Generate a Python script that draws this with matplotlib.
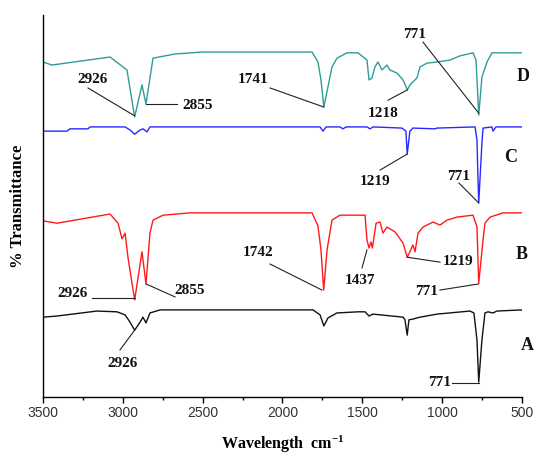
import matplotlib
matplotlib.use("Agg")
import matplotlib.pyplot as plt

plt.rcParams["mathtext.fontset"] = "custom"
plt.rcParams["mathtext.rm"] = "Liberation Serif:bold"
plt.rcParams["mathtext.bf"] = "Liberation Serif:bold"
plt.rcParams["mathtext.it"] = "Liberation Serif:bold"

# ---- data (wavenumber cm-1, stacked % transmittance) ----
wn_D = [3500, 3444, 3080, 2974, 2926, 2880, 2855, 2811, 2673, 2504, 1815, 1778, 1759, 1741, 1690, 1659,
        1596, 1527, 1471, 1458, 1440, 1421, 1402, 1377, 1346, 1327, 1283, 1245, 1218, 1202, 1183,
        1158, 1139, 1095, 1032, 951, 889, 807, 788, 771, 751, 719, 688, 650, 500]
T_D = [87.7, 86.9, 89.0, 85.6, 73.3, 81.7, 76.7, 88.7, 89.8, 90.3, 90.3, 87.7, 83.0, 75.9, 86.4, 88.7,
       90.1, 90.1, 88.2, 83.0, 83.5, 86.4, 87.7, 85.6, 86.9, 85.6, 84.8, 83.0, 80.4, 81.7, 82.5,
       83.5, 86.4, 87.4, 87.7, 88.2, 89.3, 90.1, 88.2, 73.8, 83.8, 87.7, 90.1, 90.1, 90.1]

wn_C = [3500, 3350, 3331, 3218, 3206, 2986, 2955, 2926, 2892, 2874, 2849, 2830, 1765, 1746, 1727,
        1640, 1621, 1602, 1471, 1452, 1433, 1252, 1227, 1219, 1202, 1183, 1045, 1032, 794, 782,
        776, 771, 751, 744, 688, 682, 663, 500]
T_C = [69.6, 69.6, 70.2, 70.2, 70.7, 70.7, 69.9, 68.8, 69.9, 70.2, 69.4, 70.7, 70.7, 69.6, 70.7,
       70.7, 70.2, 70.7, 70.7, 70.2, 70.7, 70.4, 69.6, 63.6, 69.6, 70.4, 70.2, 70.4, 70.7, 67.3,
       57.6, 50.8, 66.5, 70.4, 70.7, 69.6, 70.7, 70.7]

wn_B = [3500, 3412, 3080, 3030, 3005, 2986, 2968, 2926, 2880, 2855, 2830, 2811, 2748, 2579, 1815,
        1778, 1759, 1742, 1721, 1690, 1640, 1483, 1471, 1458, 1446, 1437, 1414, 1389, 1371, 1346,
        1295, 1245, 1219, 1202, 1183, 1170, 1151, 1120, 1057, 1014, 970, 907, 807, 782, 771, 744,
        732, 700, 619, 500]
T_B = [46.1, 45.5, 47.9, 45.5, 41.4, 42.9, 36.6, 25.4, 38.0, 29.6, 42.9, 46.3, 47.6, 48.2, 48.2,
       44.8, 38.5, 28.0, 38.5, 46.3, 47.6, 47.6, 41.1, 39.0, 40.6, 39.0, 45.5, 45.8, 42.9, 44.5,
       43.2, 40.3, 36.6, 38.0, 39.8, 38.0, 42.9, 44.5, 45.8, 45.0, 46.3, 47.1, 47.6, 44.5, 29.8, 41.1,
       45.5, 47.1, 48.2, 48.2]

wn_A = [3500, 3412, 3162, 3037, 2986, 2955, 2926, 2892, 2874, 2855, 2830, 2767, 1809, 1765, 1741,
        1715, 1659, 1527, 1483, 1458, 1433, 1245, 1233, 1219, 1208, 1183, 1139, 1032, 826, 801,
        782, 771, 751, 732, 713, 682, 657, 500]
T_A = [20.9, 21.2, 22.5, 22.3, 21.5, 19.6, 17.5, 19.6, 20.9, 19.4, 22.0, 22.8, 22.8, 21.5, 18.6,
       20.7, 22.0, 22.3, 22.3, 21.2, 21.7, 20.9, 20.2, 16.2, 20.2, 20.4, 20.9, 21.7, 22.5, 22.0,
       14.9, 3.9, 14.9, 22.0, 22.3, 22.0, 22.5, 22.8]

series_names = ["D", "C", "B", "A"]
series_colors = ["#2E9C98", "#2828FF", "#FF1A1A", "#111111"]

# peak annotations: (text, text position, leader line)
ann_text = ["2926", "2855", "1741", "1218", "771",
            "1219", "771",
            "2926", "2855", "1742", "1437", "1219", "771",
            "2926", "771"]
ann_xy = [(3187, 83.0), (2529, 76.2), (2185, 83.0), (1371, 74.3), (1170, 94.8),
          (1421, 56.3), (895, 57.6),
          (3312, 27.2), (2579, 28.0), (2153, 37.7), (1515, 30.6), (901, 35.6), (1095, 27.5),
          (3000, 8.9), (1014, 3.7)]
ann_line = [((3218, 80.9), (2926, 73.6)), ((2855, 76.7), (2661, 76.7)), ((2078, 80.9), (1741, 75.9)),
            ((1339, 77.7), (1218, 80.4)), ((1120, 92.9), (771, 74.3)),
            ((1389, 59.4), (1219, 63.6)), ((895, 56.0), (771, 50.8)),
            ((3193, 25.9), (2926, 25.9)), ((2855, 29.6), (2673, 26.2)), ((2078, 34.8), (1753, 28.0)),
            ((1502, 33.8), (1471, 38.5)), ((1220, 36.6), (1014, 35.3)), ((1014, 28.0), (771, 29.6)),
            ((3018, 12.3), (2926, 17.5)), ((938, 3.7), (771, 3.7))]
letter_xy = [(494, 83.8), (569, 62.6), (500, 37.2), (469, 13.6)]

serif = ["Liberation Serif", "DejaVu Serif"]

fig = plt.figure(figsize=(5.34, 4.59), dpi=100)
ax = fig.add_axes([43 / 534, 62 / 459, (522 - 43) / 534, (397 - 15) / 459])

for wn, T, c in zip([wn_D, wn_C, wn_B, wn_A], [T_D, T_C, T_B, T_A], series_colors):
    ax.plot(wn, T, color=c, lw=1.0)

for (p0, p1) in ann_line:
    ax.plot([p0[0], p1[0]], [p0[1], p1[1]], color="#222222", lw=0.8)
for t, (x, y) in zip(ann_text, ann_xy):
    ax.text(x, y, t, ha="center", va="center", fontsize=11, fontweight="bold",
            family=serif, color="#111111")
for t, (x, y) in zip(series_names, letter_xy):
    ax.text(x, y, t, ha="center", va="center", fontsize=13, fontweight="bold",
            family=serif, color="#111111", clip_on=False)

ax.set_xlim(3500, 500)
ax.set_ylim(0, 100)
ax.set_xticks([3500, 3000, 2500, 2000, 1500, 1000, 500])
ax.set_xticks([3250, 2750, 2250, 1750, 1250, 750], minor=True)
ax.set_yticks([])
ax.spines["top"].set_visible(False)
ax.spines["right"].set_visible(False)
ax.spines["left"].set_linewidth(1.0)
ax.spines["bottom"].set_linewidth(1.0)
ax.tick_params(axis="x", which="major", length=4.5, width=1.0, pad=2,
               labelsize=10, labelcolor="#333333")
ax.tick_params(axis="x", which="minor", length=2.5, width=1.0)
for lab in ax.get_xticklabels():
    lab.set_family(["Liberation Sans", "DejaVu Sans"])

ax.set_xlabel("Wavelength  cm$^{-1}$", fontsize=11.5, fontweight="bold",
              family=serif, labelpad=10)
ax.set_ylabel("% Transmittance", fontsize=12, fontweight="bold", family=serif, labelpad=12)

fig.savefig("out.png", dpi=100)
